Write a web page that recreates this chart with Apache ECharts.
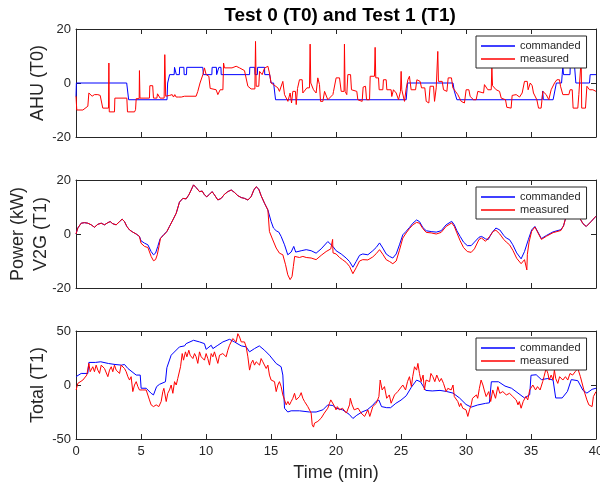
<!DOCTYPE html>
<html><head><meta charset="utf-8">
<script src="https://cdn.jsdelivr.net/npm/echarts@6/dist/echarts.min.js"></script>
<style>html,body{margin:0;padding:0;background:#fff}#c{width:600px;height:487px}</style>
</head><body><div id="c"></div>
<script>
const titleText = 'Test 0 (T0) and Test 1 (T1)';
const seriesNames = ['commanded', 'measured'];
const panelNames = ['AHU (T0)', 'Power (kW)\nV2G (T1)', 'Total (T1)'];
const xName = 'Time (min)';
const xTicks = [0, 5, 10, 15, 20, 25, 30, 35, 40];
const yRanges = [[-20, 20, 20], [-20, 20, 20], [-50, 50, 50]];

const ahuCommanded = [[0,-5],[0.03,0],[3.9,0],[4.05,-6.2],[7.0,-6.2],[7.05,0],[7.2,3.1],[7.55,3.1],[7.58,5.8],[7.7,5.8],[7.72,3.1],[7.95,3.1],[7.97,5.8],[8.3,5.8],[8.32,3.1],[8.5,3.1],[8.52,5.8],[9.75,5.8],[9.8,3.1],[10.45,3.1],[10.47,5.8],[10.8,5.8],[10.82,3.1],[10.97,3.1],[10.99,5.8],[11.15,5.8],[11.17,3.1],[13.35,3.1],[13.37,5.8],[13.75,5.8],[13.77,3.1],[13.95,3.1],[13.97,5.8],[14.5,5.8],[14.52,3.1],[14.9,3.1],[15.0,0],[15.2,0],[15.35,-6.2],[25.4,-6.2],[25.5,0],[29.0,0],[29.1,-3],[29.2,-3],[29.3,-6.2],[35.85,-6.2],[35.9,-3],[35.95,-6.2],[36.7,-6.2],[36.95,0],[37.35,0],[37.4,3.1],[37.45,6.2],[37.5,3.1],[38.0,3.1],[38.02,6.2],[38.35,6.2],[38.45,0],[39.5,0],[39.55,3.1],[40,3.1]];

const ahuMeasured = [[0,-4.9],[0.06,-10],[0.53,-10],[0.91,-8.6],[0.99,-3.7],[1.09,-3.7],[1.24,-4.9],[1.42,-4.3],[1.55,-4.9],[1.68,-4.3],[1.86,-4.6],[2.01,-4.9],[2.06,-9.3],[2.5,-9.3],[2.53,7.4],[2.56,-10.7],[2.96,-10.7],[2.99,-5.6],[3.91,-5.6],[3.96,-10.7],[4.5,-10.7],[4.58,-9.9],[4.63,-5.8],[4.86,-5.8],[4.88,4.6],[4.92,-5.6],[5.65,-5.6],[5.68,-1],[5.9,-1],[5.96,-5.6],[6.22,-5.6],[6.27,-4],[6.42,-4],[6.47,-5.6],[6.78,-5.6],[6.83,10.5],[6.9,-4.9],[7.2,-4.6],[7.3,-5.2],[7.4,-4.3],[7.5,-5.2],[7.6,-4.3],[7.7,-5.2],[7.8,-4.6],[7.9,-5.2],[8.0,-4.6],[8.1,-5.2],[8.35,-4.9],[9.24,-4.9],[9.37,-3.1],[9.54,0],[9.76,3.1],[9.88,5.6],[10.01,3.1],[10.22,2.5],[10.32,-2],[10.78,-2.5],[10.91,-4.3],[11.09,-2.5],[11.3,-2.5],[11.35,7.4],[11.42,5.6],[12.0,5.6],[12.32,6.2],[12.58,5.6],[12.96,4.6],[13.09,4.6],[13.22,-1.2],[13.47,-2.2],[13.76,-2.2],[13.81,15.4],[13.86,-1.2],[14.06,-1.2],[14.12,4.3],[14.32,3.1],[14.5,5.5],[14.76,6.2],[14.88,3.7],[15.01,0],[15.19,-0.6],[15.53,-1.8],[15.65,-3.1],[15.8,-3.1],[15.91,0.6],[16.0,0.6],[16.04,-4.3],[16.3,-6.8],[16.42,-7.4],[16.47,-3.7],[16.58,-7.4],[16.68,-3.1],[16.88,-3.1],[16.94,-8],[17.04,-2],[17.19,1.2],[17.4,1.2],[17.45,-3.7],[17.76,-1.8],[17.96,-1.8],[18.01,14.4],[18.06,0],[18.27,-2.5],[18.47,-3.7],[18.6,1.9],[18.73,-0.6],[18.81,-6.8],[18.99,-6.8],[19.12,-3.1],[19.37,-6.2],[19.76,-4.3],[19.81,-3.1],[20.01,1.9],[20.27,1.9],[20.4,-3.1],[20.62,-3.1],[20.65,14.4],[20.7,-3.1],[20.83,-4.3],[20.91,3.1],[21.12,3.1],[21.19,-2.5],[21.6,-3.1],[21.68,-6.2],[22.01,-6.8],[22.09,-1.5],[22.27,-1.2],[22.35,-6.2],[22.58,-6.2],[22.63,2.5],[22.96,2.5],[23.01,13.2],[23.06,1.9],[23.27,1.9],[23.32,-2.5],[23.6,-2.5],[23.65,1.2],[23.86,1.2],[23.91,-2.5],[24.24,-2.5],[24.29,-5],[24.42,-2.5],[24.63,-3.7],[24.81,-6.2],[24.96,-3.1],[25.01,4.3],[25.06,-2.5],[25.27,-6.8],[25.4,-2],[25.53,1.2],[25.65,2.5],[25.78,-2.5],[26.12,-2.5],[26.22,1.2],[26.47,0.6],[26.58,-1.8],[26.83,-1.8],[26.94,-6.8],[27.14,-7.4],[27.24,-1.2],[27.5,-1.2],[27.58,-6.8],[27.71,-1.8],[27.8,-1.8],[27.83,11.7],[27.88,0.6],[28.17,0.6],[28.27,-2.5],[28.53,-3.1],[28.63,1.9],[28.88,1.9],[28.99,-1.8],[29.19,-3.1],[29.37,-4.3],[29.63,-6.8],[29.88,-7.4],[30.01,-2.5],[30.22,-2.5],[30.32,-5],[30.58,-6.2],[30.78,-6.2],[30.91,-3.1],[31.35,-3.7],[31.42,-0.6],[31.55,-0.6],[31.68,-2.5],[31.94,-2.5],[31.99,5.6],[32.04,-1],[32.32,-2.5],[32.58,-3.1],[32.71,-5.6],[33.04,-6.2],[33.14,-9],[33.47,-9.3],[33.55,-4.6],[33.86,-4.3],[34.12,-5.2],[34.32,-3.7],[34.5,0.6],[34.71,0.6],[34.78,-2.5],[34.94,0],[35.09,-1],[35.19,-3.7],[35.45,-6.2],[35.58,-9.3],[35.78,-9.3],[35.91,-3.1],[36.17,-4.3],[36.37,-6.2],[36.55,-2.5],[36.81,0],[36.99,1.2],[37.19,1.2],[37.27,-1.2],[37.45,-4.3],[37.91,-4.3],[38.01,-2.5],[38.17,-2.5],[38.24,-9.3],[38.6,-9.3],[38.68,-4.3],[38.82,-4.3],[38.86,9],[38.9,-9.3],[39.19,-9.3],[39.3,-1.2],[39.5,-2.5],[39.76,-2.5],[40,-3.1]];

const v2gCommanded = [[0,0],[0.14,2.2],[0.4,4],[0.65,4.2],[0.91,4],[1.17,3.4],[1.42,2.5],[1.68,3.6],[1.94,4],[2.19,3.4],[2.45,4.2],[2.63,4.6],[2.83,3.8],[3.09,3.4],[3.35,4.6],[3.55,5.5],[3.73,4.6],[3.91,2.8],[4.12,1.5],[4.37,0.7],[4.63,0],[4.88,-0.9],[5.0,-2.5],[5.27,-3.4],[5.53,-4],[5.78,-6.5],[5.96,-7.7],[6.12,-7.1],[6.29,-4.6],[6.47,-1.8],[6.73,-0.3],[6.99,0.9],[7.19,2.8],[7.45,5.2],[7.71,7.7],[7.96,11.8],[8.22,13.2],[8.47,13],[8.68,14.5],[8.86,16.3],[9.04,18.2],[9.24,17.2],[9.5,15.7],[9.71,15.9],[9.88,14.5],[10.06,13.8],[10.27,14.7],[10.47,15.7],[10.65,14.5],[10.91,12.6],[11.17,13.2],[11.42,14.7],[11.68,15.7],[11.94,16.3],[12.19,15.4],[12.45,14.2],[12.71,13.5],[12.96,13.2],[13.22,12.6],[13.47,13.8],[13.68,16.3],[13.86,17.5],[14.06,16.6],[14.24,14.2],[14.5,11.4],[14.76,8.9],[15.01,4.6],[15.19,2.2],[15.4,1.2],[15.6,0.7],[15.78,-0.9],[16.04,-4],[16.29,-7.7],[16.55,-6.7],[16.75,-4.6],[16.9,-6.7],[17.32,-6.2],[17.71,-5.8],[18.09,-6.2],[18.47,-7.1],[18.86,-5.5],[19.37,-2.8],[19.76,-4.6],[20.01,-6.2],[20.4,-7.4],[20.78,-8.9],[21.04,-10.2],[21.3,-12.3],[21.55,-10.2],[21.81,-7.9],[22.06,-7.4],[22.45,-7.7],[22.83,-6.2],[23.09,-5],[23.35,-3.3],[23.6,-5.2],[23.86,-7.4],[24.12,-8.3],[24.37,-8.9],[24.63,-7.4],[24.88,-4],[25.14,-0.3],[25.4,1],[25.65,2.4],[25.91,4],[26.2,5.2],[26.42,4.6],[26.68,2.4],[26.94,1.2],[27.32,0.9],[27.71,0.7],[28.09,1.2],[28.47,3.4],[28.9,4.7],[29.1,3.4],[29.3,1.2],[29.55,-0.9],[29.81,-3],[30.1,-4.3],[30.4,-4.3],[30.65,-3],[31.0,-1.2],[31.2,-0.9],[31.5,-1.8],[31.7,-2.1],[32.0,0.5],[32.3,2.2],[32.6,1.5],[32.9,-0.5],[33.1,-1.5],[33.35,-2.1],[33.6,-4],[33.9,-7],[34.24,-9.2],[34.5,-6.5],[34.8,-2],[35.05,1.5],[35.3,2.8],[35.8,-1.7],[36.2,-0.5],[36.7,0.8],[37.3,1.6],[37.5,3],[37.7,6.5],[38.0,8],[38.4,8.5],[38.7,6.3],[39.0,3.8],[39.25,2.8],[39.6,4.5],[40,6.6]];

const v2gMeasured = [[0,0],[0.14,2.2],[0.4,4],[0.65,4.2],[0.91,4],[1.17,3.4],[1.42,2.5],[1.68,3.6],[1.94,4],[2.19,3.4],[2.45,4.2],[2.63,4.6],[2.83,3.8],[3.09,3.4],[3.35,4.6],[3.55,5.5],[3.73,4.6],[3.91,2.8],[4.12,1.5],[4.37,0.7],[4.63,0],[4.88,-0.9],[5.0,-3.4],[5.27,-4.6],[5.53,-5],[5.78,-8.3],[5.96,-9.9],[6.12,-9.5],[6.25,-7.7],[6.4,-4.2],[6.5,-1.5],[6.73,-0.5],[6.99,0.9],[7.19,2.8],[7.45,5.2],[7.71,7.7],[7.96,11.8],[8.22,13.2],[8.47,13],[8.68,14.5],[8.86,16.3],[9.04,18.2],[9.24,17.2],[9.5,15.7],[9.71,15.9],[9.88,14.5],[10.06,13.8],[10.27,14.7],[10.47,15.7],[10.65,14.5],[10.91,12.6],[11.17,13.2],[11.42,14.7],[11.68,15.7],[11.94,16.3],[12.19,15.4],[12.45,14.2],[12.71,13.5],[12.96,13.2],[13.22,12.6],[13.47,13.8],[13.68,16.3],[13.86,17.5],[14.06,16.6],[14.24,14.2],[14.5,11.4],[14.76,8.9],[14.83,8.3],[14.88,0.9],[15.14,-2.2],[15.4,-5.2],[15.65,-7.1],[15.91,-7.7],[16.12,-11.4],[16.29,-15.1],[16.47,-16.9],[16.62,-15.7],[16.72,-12],[16.82,-8.3],[17.19,-8.7],[17.45,-8.3],[17.71,-8.7],[18.09,-8.9],[18.47,-9.5],[18.86,-7.9],[19.24,-6.5],[19.6,-5.5],[19.72,-5.5],[19.74,-2],[19.77,-7],[20.01,-7.4],[20.27,-8.7],[20.5,-9.5],[20.78,-10.5],[21.04,-12],[21.3,-14.7],[21.55,-12.5],[21.81,-10],[22.06,-9.5],[22.45,-9.6],[22.83,-8.5],[23.09,-7.3],[23.35,-5.8],[23.6,-7.5],[23.86,-9.5],[24.12,-10.2],[24.37,-11],[24.63,-10],[24.88,-6],[25.14,-1.5],[25.4,0.4],[25.65,2],[25.91,3.4],[26.2,4.3],[26.42,4],[26.68,2],[26.94,0.6],[27.32,0.4],[27.71,0],[28.09,0.6],[28.47,2.8],[28.9,4.1],[29.1,2.8],[29.3,0.4],[29.55,-2.5],[29.81,-5],[30.1,-6.5],[30.4,-6.8],[30.65,-5.5],[31.0,-2],[31.2,-1.5],[31.5,-2.7],[31.8,-1],[32.1,1],[32.3,1.4],[32.6,0],[32.9,-2],[33.1,-3],[33.35,-4],[33.6,-6],[33.9,-9],[34.24,-11],[34.5,-9.5],[34.65,-9],[34.68,-13.3],[34.72,-7.5],[34.85,-3],[35.05,1],[35.3,2.6],[35.8,-2],[36.2,-0.8],[36.7,0.5],[37.3,1.3],[37.5,3],[37.7,6.5],[38.0,8],[38.4,8.5],[38.7,6.3],[39.0,3.8],[39.25,2.8],[39.6,4.5],[40,6.6]];

const totalCommanded = [[0,7.7],[0.4,10.7],[0.91,10.7],[0.99,20.9],[1.5,20.9],[1.9,21.5],[2.0,19.9],[2.5,19.9],[3.0,19.0],[3.5,18.4],[3.73,19.0],[3.99,15.3],[4.63,9.2],[4.94,9.2],[5.01,-3],[5.4,-3],[5.78,-7.7],[5.96,-9.2],[6.2,-1.5],[6.42,0.6],[6.88,3],[6.99,16],[7.32,27.6],[7.96,35.3],[8.35,36.2],[8.47,38.3],[9.04,41.4],[9.5,39.9],[9.88,38.3],[10.01,33],[10.4,36.8],[10.53,33.7],[10.91,36.8],[11.3,39.9],[11.81,42.3],[12.19,39.9],[12.71,36.2],[13.09,35.3],[13.35,30.7],[13.73,33.7],[14.1,36.2],[14.5,32.2],[14.88,27.6],[15.4,19.9],[15.78,16.9],[15.91,9.2],[16.04,-21.5],[16.29,-25],[16.55,-23.9],[17.19,-23.9],[17.96,-25],[18.47,-25],[18.99,-23],[19.37,-18.4],[19.76,-19],[20.01,-21.5],[20.5,-23],[21.0,-27],[21.3,-31],[21.6,-28],[22.0,-25],[22.4,-23],[22.8,-19],[23.1,-15],[23.3,-14],[23.5,-20],[23.9,-21],[24.2,-21],[24.6,-17],[25.0,-14],[25.4,-10],[25.8,-2],[26.2,4.5],[26.5,3],[26.9,-5],[27.4,-5.5],[28.0,-5],[28.5,-6],[29.0,-7.5],[29.5,-12],[30.0,-18],[30.4,-20.5],[30.9,-18.5],[31.5,-17],[31.8,-16.5],[31.95,3],[32.5,3],[33.0,-1],[33.5,-3],[34.0,-7.5],[34.5,-12],[34.9,-9],[35.0,9],[35.4,9.5],[35.8,5],[36.3,6],[36.7,4.5],[36.9,-12],[37.4,-12],[37.8,-6],[38.1,5],[38.6,4],[39.0,-5],[39.3,-7.5],[39.7,-4],[40,-3]];

const totalMeasured = [[0.01,-4.6],[0.14,1.5],[0.27,0],[0.53,4.6],[0.65,3.1],[0.83,9.2],[0.99,20],[1.09,12.3],[1.29,16.9],[1.42,12.3],[1.55,18.4],[1.68,13.8],[1.81,10.7],[1.94,18.4],[2.06,20],[2.19,15.3],[2.32,16.9],[2.45,7.7],[2.58,13.8],[2.71,16.9],[2.83,12.3],[2.96,18.4],[3.09,13.8],[3.22,15.3],[3.35,10.7],[3.47,18.4],[3.6,20],[3.73,15.3],[3.86,12.3],[3.99,7.7],[4.12,4.6],[4.24,7.7],[4.37,-6.1],[4.5,0],[4.63,3.1],[4.76,-1.5],[4.88,-4.6],[5.01,-3.1],[5.14,-4.6],[5.4,-4.6],[5.53,-3.1],[5.65,-13.8],[5.78,-18.4],[5.96,-20],[6.17,-18.4],[6.37,-20],[6.55,-15.3],[6.68,-6.1],[6.76,-3.1],[6.94,-15.3],[7.06,-7.7],[7.19,-4.6],[7.32,0],[7.45,-7.7],[7.58,3.1],[7.71,0],[7.83,6.1],[7.96,7.7],[8.04,16.9],[8.17,29.1],[8.27,23],[8.42,30.7],[8.53,26.1],[8.68,32.2],[8.78,27.6],[8.99,24.5],[9.12,29.1],[9.24,26.1],[9.37,20],[9.5,30.7],[9.63,26.1],[9.76,27.6],[9.88,23],[10.01,29.1],[10.14,24.5],[10.27,18.4],[10.4,29.1],[10.53,26.1],[10.65,30.7],[10.78,29.1],[10.91,20],[11.04,27.6],[11.17,26.1],[11.29,29.1],[11.42,30.7],[11.55,26.1],[11.68,32.2],[11.81,36.8],[11.94,38.3],[12.06,43],[12.19,44.5],[12.32,39.9],[12.45,47.5],[12.58,44.5],[12.71,39.9],[12.83,38.3],[12.96,39.9],[13.09,35.3],[13.22,26.1],[13.35,13.8],[13.47,20],[13.6,23],[13.73,18.4],[13.86,21.5],[13.99,23],[14.12,18.4],[14.24,24.5],[14.37,21.5],[14.5,23],[14.63,15.3],[14.76,18.4],[14.88,9.2],[15.01,4.6],[15.14,6.1],[15.27,3.1],[15.4,-6.1],[15.53,0],[15.65,3.1],[15.78,-1.5],[15.91,-9.2],[16.04,-13.8],[16.17,-18.4],[16.3,-15.3],[16.42,-18.4],[16.55,-15.3],[16.68,-12.3],[16.81,-7.7],[16.94,-13.8],[17.06,-15.3],[17.19,-10.7],[17.32,-7.1],[17.45,-12.3],[17.58,-15.3],[17.71,-16.9],[17.83,-20],[17.96,-21.5],[18.09,-26],[18.17,-36.8],[18.27,-39],[18.35,-35.3],[18.48,-35.3],[18.6,-33.7],[18.86,-30.7],[19.1,-26],[19.37,-21.5],[19.5,-16.9],[19.6,-13.8],[19.75,-15.3],[19.9,-20],[20.0,-23],[20.1,-20],[20.27,-23],[20.5,-21.5],[20.8,-26],[21.04,-18.4],[21.1,-12.3],[21.24,-18.4],[21.4,-23],[21.7,-21.5],[21.93,-26],[22.2,-29.1],[22.45,-23],[22.6,-29.1],[22.83,-20],[23.1,-16.9],[23.3,-10.7],[23.4,4.6],[23.55,-4.6],[23.73,-1.5],[23.9,-12.3],[24.1,-9.2],[24.24,-16.9],[24.5,-9.2],[24.75,-6.1],[24.9,-7.7],[25.14,0],[25.35,-4.6],[25.5,3.1],[25.65,7.7],[25.8,-1.5],[25.9,7.7],[26.04,16.9],[26.2,13.8],[26.3,20],[26.42,10.7],[26.55,3.1],[26.7,9.2],[26.8,-4.6],[26.93,4.6],[27.06,6.1],[27.2,3.1],[27.3,10.7],[27.45,7.7],[27.6,3.1],[27.75,9.2],[27.96,3.1],[28.1,6.1],[28.27,1.5],[28.47,-6.1],[28.6,-3.1],[28.86,-4.6],[29.0,0],[29.1,-10.7],[29.37,-15.3],[29.5,-20],[29.6,-16.9],[29.75,-21.5],[29.9,-20],[30.0,-23],[30.14,-29.1],[30.27,-23],[30.4,-18.4],[30.5,-12.3],[30.65,-13.8],[30.8,-9.2],[30.9,-12.3],[31.03,-3.1],[31.16,4.6],[31.3,0],[31.4,-4.6],[31.55,-10.7],[31.75,-6.1],[31.9,-15.3],[32.06,-4.6],[32.27,-12.3],[32.45,-1.5],[32.6,-7.7],[32.83,-6.1],[33.1,-9.2],[33.35,-7.7],[33.6,-10.7],[33.86,-13.8],[34.0,-18.4],[34.1,-15.3],[34.24,-21.5],[34.4,-15.3],[34.6,-10.7],[34.75,-13.8],[34.9,-4.6],[35.14,0],[35.35,-4.6],[35.5,-1.5],[35.7,-4.6],[35.9,3.1],[36.0,7.7],[36.16,15.3],[36.3,10.7],[36.4,4.6],[36.55,9.2],[36.7,4.6],[36.8,13.8],[36.9,6.1],[37.06,1.5],[37.2,7.7],[37.45,4.6],[37.65,7.7],[37.83,4.6],[38.0,10.7],[38.2,9.2],[38.4,12.3],[38.6,15.3],[38.8,7.7],[38.93,9.2],[39.1,-6.1],[39.3,-13.8],[39.45,-18.4],[39.55,-16.9],[39.7,-20],[39.8,-10.7],[40,-6.1]];

const panels = [[ahuCommanded, ahuMeasured], [v2gCommanded, v2gMeasured], [totalCommanded, totalMeasured]];
const colors = ['#0000ff', '#ff0000'];

const FONT = '"Liberation Sans", Arial, Helvetica, sans-serif';
const AX = '#262626';
const gridBoxes = [{top: 29, height: 108}, {top: 180, height: 108}, {top: 331, height: 108}];
const nameGaps = [26, 23, 26];

function axLine() { return {show: true, onZero: false, lineStyle: {color: AX, width: 1}}; }
function axTick() { return {show: true, inside: true, length: 5, lineStyle: {color: AX, width: 1}}; }

const grid = [], xAxis = [], yAxis = [], series = [], legend = [];
gridBoxes.forEach((g, i) => {
  grid.push({left: 76, width: 520, top: g.top, height: g.height, show: false, containLabel: false, outerBoundsMode: 'none'});
  xAxis.push({type: 'value', gridIndex: i, position: 'bottom', min: xTicks[0], max: xTicks[xTicks.length-1], interval: 5,
    axisLine: axLine(), axisTick: axTick(), splitLine: {show: false}, axisPointer: {show: false},
    axisLabel: {show: i === 2, fontSize: 13, color: AX, fontFamily: FONT, margin: 6},
    name: i === 2 ? xName : '', nameLocation: 'middle', nameGap: 25, nameMoveOverlap: false,
    nameTextStyle: {fontSize: 18, color: AX, fontFamily: FONT}});
  xAxis.push({type: 'value', gridIndex: i, position: 'top', min: xTicks[0], max: xTicks[xTicks.length-1], interval: 5,
    axisLine: axLine(), axisTick: axTick(), splitLine: {show: false}, axisLabel: {show: false}, axisPointer: {show: false}});
  const [ymin, ymax, yint] = yRanges[i];
  yAxis.push({type: 'value', gridIndex: i, position: 'left', min: ymin, max: ymax, interval: yint,
    axisLine: axLine(), axisTick: axTick(), splitLine: {show: false}, axisPointer: {show: false},
    axisLabel: {fontSize: 13, color: AX, fontFamily: FONT, margin: 5},
    name: panelNames[i], nameLocation: 'middle', nameGap: nameGaps[i], nameMoveOverlap: false,
    nameTextStyle: {fontSize: 18, color: AX, fontFamily: FONT, lineHeight: 23}});
  yAxis.push({type: 'value', gridIndex: i, position: 'right', min: ymin, max: ymax, interval: yint,
    axisLine: axLine(), axisTick: axTick(), splitLine: {show: false}, axisLabel: {show: false}, axisPointer: {show: false}});
  panels[i].forEach((d, k) => {
    series.push({type: 'line', name: seriesNames[k], xAxisIndex: 2*i, yAxisIndex: 2*i, data: d,
      symbol: 'none', showSymbol: false, color: colors[k], lineStyle: {color: colors[k], width: 1}, itemStyle: {color: colors[k]},
      emphasis: {disabled: true}, silent: true, z: 5 + k});
  });
  legend.push({data: seriesNames.map((n, k) => ({name: n, itemStyle: {color: colors[k], borderWidth: 0}})),
    orient: 'vertical', left: 476, top: g.top + 7,
    icon: 'rect', padding: [3.5, 6, 2.5, 5], itemWidth: 34, itemHeight: 1.5, itemGap: 0,
    backgroundColor: '#fff', borderColor: AX, borderWidth: 1, borderRadius: 0,
    textStyle: {fontSize: 11, color: AX, fontFamily: FONT, lineHeight: 13},
    selectedMode: false, z: 10});
});

const chart = echarts.init(document.getElementById('c'), null, {renderer: 'canvas'});
chart.setOption({
  animation: false,
  backgroundColor: '#fff',
  title: {text: titleText, left: 335, top: 1, textAlign: 'center',
    textStyle: {fontSize: 19, fontWeight: 'bold', color: '#000', fontFamily: FONT}},
  grid, xAxis, yAxis, series, legend
});
</script></body></html>
